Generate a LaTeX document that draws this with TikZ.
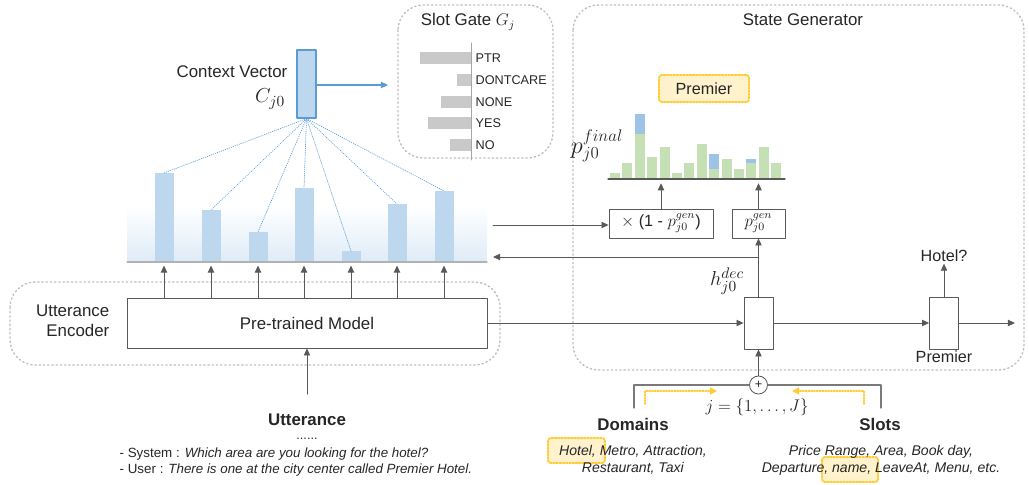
\documentclass[tikz,border=0pt]{standalone}
\usepackage{fontspec}
\setmainfont{Liberation Sans}
\usetikzlibrary{arrows.meta,positioning,calc}

\definecolor{cvfill}{HTML}{BDD7EE}
\definecolor{cvline}{HTML}{5B9BD5}
\definecolor{fadeblue}{HTML}{DEEBF7}
\definecolor{distgreen}{HTML}{C5E0B4}
\definecolor{distblue}{HTML}{9DC3E6}
\definecolor{gategray}{HTML}{C9C9C9}
\definecolor{hlfill}{HTML}{FFF2CC}
\definecolor{hlline}{HTML}{FFCC33}
\definecolor{grpline}{HTML}{BFBFBF}
\definecolor{conline}{HTML}{595959}

\begin{document}
\begin{tikzpicture}[x=0.025cm,y=-0.025cm,line cap=round,line join=round,
  >={Triangle[length=5pt,width=4.5pt]},
  every node/.style={inner sep=1pt,text=black!85},
  big/.style={font=\fontsize{12}{14}\selectfont},
  mid/.style={font=\fontsize{11.5}{13.5}\selectfont},
  sml/.style={font=\fontsize{10}{12}\selectfont},
  tiny/.style={font=\fontsize{9}{11}\selectfont},
  bigmath/.style={font=\fontsize{15}{17}\selectfont},
  blk/.style={draw=conline,fill=white,line width=0.6pt,inner sep=0pt},
  grp/.style={draw=grpline,dotted,line width=1pt,rounded corners=18pt},
  con/.style={->,draw=conline,line width=0.6pt},
  attn/.style={cvline,densely dotted,line width=0.5pt},
  hl/.style={draw=hlline,densely dotted,line width=1.3pt,fill=hlfill,rounded corners=2pt},
  yarr/.style={->,draw=hlline,densely dotted,line width=1pt,>={Triangle[length=5pt,width=5pt]}}]
  \useasboundingbox (0,0) rectangle (1029,485);

  % groups
  \draw[grp] (398,5) rectangle (553,158);
  \draw[grp] (10,282) rectangle (500,365);
  \draw[grp] (573,5) rectangle (1024,370);
  \node[big] (sgen) at (803,20) {State Generator};
  \node[big] (sgt) at (468,22) {Slot Gate {\large$G_j$}};
  \node[big,align=right,anchor=east] (uenc) at (111,321) {Utterance\\Encoder};

  % slot gate
  \draw[gray!70,line width=0.7pt] (471,43) -- (471,160);
  \foreach \n/\lab/\w/\yy in {1/PTR/51/58,2/DONTCARE/14/80,3/NONE/30/102,4/YES/43/123,5/NO/21/145}{
    \fill[gategray] (471-\w,\yy-6) rectangle (471,\yy+6);
    \node[tiny,anchor=west] (g\n) at (474,\yy) {\lab};
  }

  % context vector
  \node[draw=cvline,fill=cvfill,line width=0.8pt,minimum width=0.475cm,minimum height=1.7cm] (cv) at (306.5,84) {};
  \node[big,anchor=east] (cvl) at (289,72) {Context Vector};
  \node[bigmath] (cj) at (270,99) {$C_{j0}$};
  \coordinate (gin) at (388,85);
  \draw[->,cvline,line width=0.8pt] (cv.east |- gin) -- (gin);

  % encoder outputs
  \shade[top color=white,bottom color=fadeblue] (127,206) rectangle (487,262);
  \foreach \i/\xc/\top in {1/164/173,2/211/210,3/258/232,4/304/188,5/351/251,6/397/204,7/444/191}{
    \fill[cvfill] (\xc-9.5,\top) rectangle (\xc+9.5,262);
    \coordinate (e\i) at (\xc,\top);
    \coordinate (eb\i) at (\xc,262);
  }
  \draw[gray!60,line width=0.9pt] (127,262) -- (487,262);

  % pre-trained model
  \node[blk,big,minimum width=9cm,minimum height=1.25cm] (pm) at (307,323) {Pre-trained Model};
  \foreach \i in {1,...,7}{
    \draw[attn] (cv.south) -- (e\i);
    \draw[con] (pm.north -| eb\i) -- ([yshift=-2.5pt]eb\i);
  }

  % utterance
  \node[font=\fontsize{12}{14}\selectfont\bfseries] (utt) at (307,420) {Utterance};
  \node[tiny] (udots) at (307,439) {......};
  \node[font=\fontsize{9.5}{11.5}\selectfont,align=left,anchor=north west] (udlg) at (118,446)
    {- System : \textit{Which area are you looking for the hotel?}\\
     - User : \textit{There is one at the city center called Premier Hotel.}};
  \draw[con] ([yshift=13pt]utt.north) -- (pm.south);

  % decoder
  \node[blk,minimum width=0.725cm,minimum height=1.3cm] (h) at (758.5,323) {};
  \node[blk,minimum width=0.725cm,minimum height=1.3cm] (h2) at (944,323) {};
  \node[bigmath] (hdec) at (727,281) {$h_{j0}^{dec}$};
  \node[mid] (hotel) at (944,256) {Hotel?};
  \node[mid,below=0pt of h2] (prem2) {Premier};
  \coordinate (out) at (1015,323);
  \draw[con] (pm.east) -- (h.west);
  \draw[con] (h.east) -- (h2.west);
  \draw[con] (h2.east) -- (out);
  \draw[con] (h2.north) -- (hotel.south);

  % generator boxes
  \node[blk,mid,minimum width=2.6cm,minimum height=0.725cm] (mult) at (661,223.5) {$\times$ (1 - {\large$p_{j0}^{gen}$})};
  \node[blk,font=\large,minimum width=1.325cm,minimum height=0.725cm] (pgen) at (758.5,223.5) {$p_{j0}^{gen}$};
  \coordinate (bs) at (493,225);
  \coordinate (fb) at (493,257);
  \draw[con] (bs) -- (bs -| mult.west);
  \draw[con] (h.north) -- (pgen.south);
  \draw[con] (h.north |- fb) -- (fb);

  % final distribution
  \node[hl,mid,minimum width=2.25cm,minimum height=0.675cm] (prem) at (704,88.5) {Premier};
  \node[font=\fontsize{17}{19}\selectfont] (pfin) at (597,146) {$p_{j0}^{final}$};
  \foreach \k/\g/\b in {1/173/0,2/163/0,3/134/114,4/157/0,5/147/0,6/173/0,7/163/0,8/144/0,9/169/154,10/159/0,11/169/0,12/163/159,13/147/0,14/163/0}{
    \fill[distgreen] ({610+(\k-1)*12.4},\g) rectangle ({620+(\k-1)*12.4},179);
    \ifnum\b>0
      \fill[distblue] ({610+(\k-1)*12.4},\b) rectangle ({620+(\k-1)*12.4},\g);
    \fi
  }
  \coordinate (fbase) at (697,179);
  \draw[conline,line width=0.8pt] (608,179) -- (785,179);
  \draw[con] (mult.north) -- ([yshift=-3pt]mult.north |- fbase);
  \draw[con] (pgen.north) -- ([yshift=-3pt]pgen.north |- fbase);

  % domains and slots
  \node[draw=conline,fill=white,circle,minimum size=0.45cm,inner sep=0pt,line width=0.6pt,font=\small] (plus) at (758.5,385) {+};
  \draw[con] (plus.north) -- (h.south);
  \coordinate (bl) at (634,408);
  \coordinate (br) at (881,408);
  \draw[conline!80,line width=0.9pt] (bl) |- (plus.west);
  \draw[conline!80,line width=0.9pt] (br) |- (plus.east);
  \coordinate (yl0) at (645,404);
  \coordinate (yl1) at (717,391);
  \coordinate (yr0) at (864,404);
  \coordinate (yr1) at (792,391);
  \draw[yarr] (yl0) |- (yl1);
  \draw[yarr] (yr0) |- (yr1);
  \node[font=\large] (jset) at (757,407) {$j=\{1,\ldots,J\}$};
  \node[font=\fontsize{12}{14}\selectfont\bfseries] (dom) at (633,424) {Domains};
  \node[font=\fontsize{12}{14}\selectfont\bfseries] (slots) at (880,424) {Slots};

  \draw[hl] (548,438) rectangle (605,463);
  \draw[hl] (822,457) rectangle (878,482);
  \node[sml,align=center] (domex) at (633,460) {\textit{Hotel, Metro, Attraction,}\\\textit{Restaurant, Taxi}};
  \node[sml,align=center] (slotex) at (881,460) {\textit{Price Range, Area, Book day,}\\\textit{Departure, name, LeaveAt, Menu, etc.}};
\end{tikzpicture}
\end{document}
